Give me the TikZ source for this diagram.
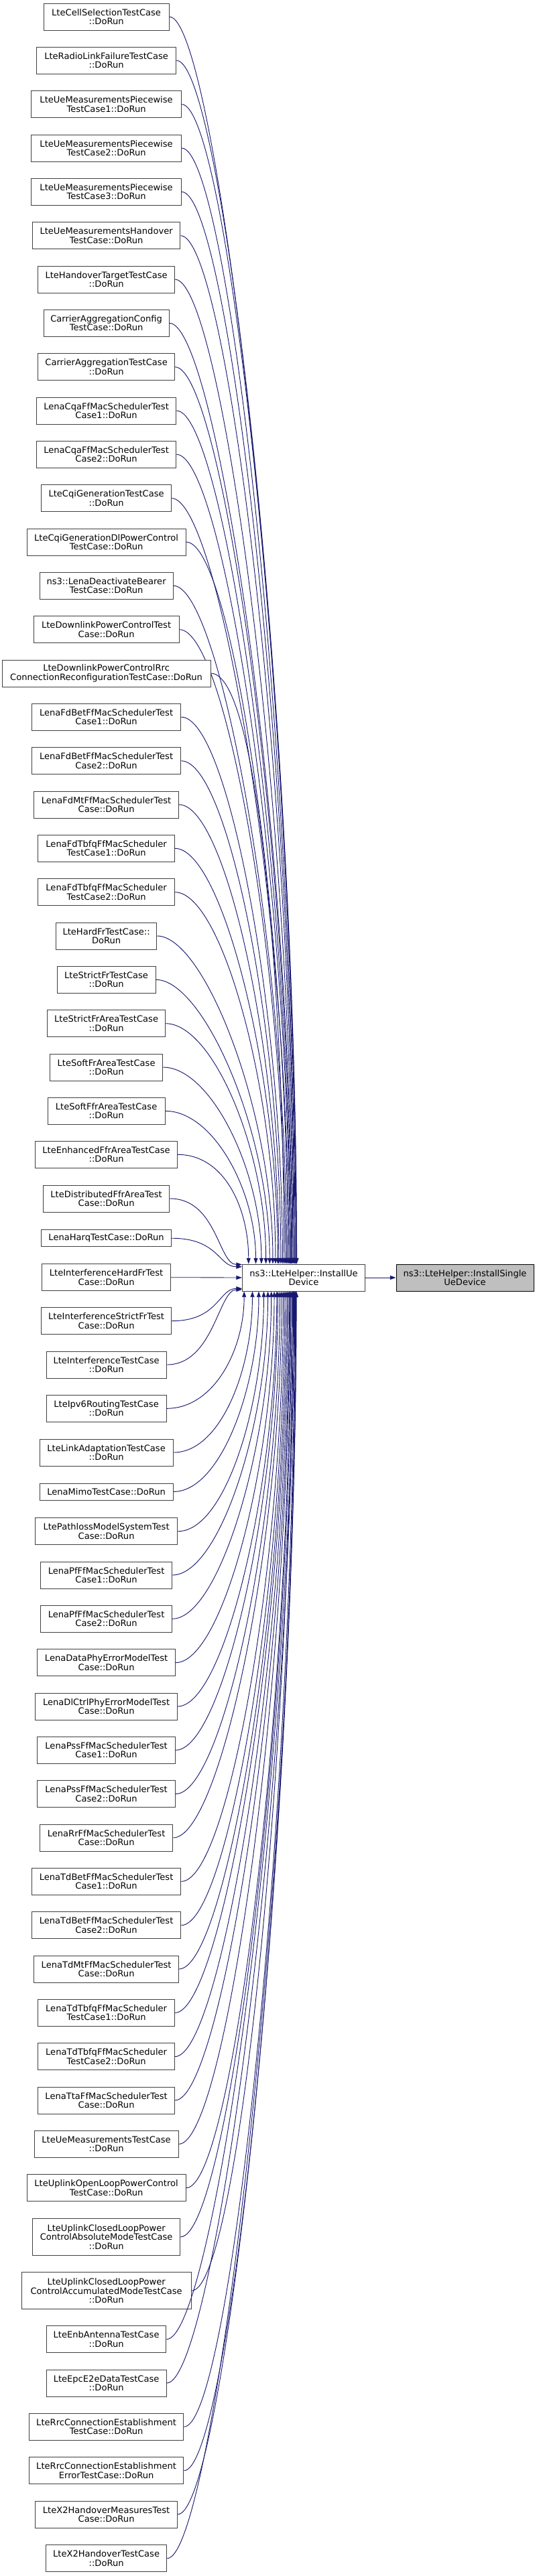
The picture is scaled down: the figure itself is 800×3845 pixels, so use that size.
\documentclass[tikz,border=0pt]{standalone}
\usepackage{fontspec}
\setmainfont{DejaVu Sans}
\usetikzlibrary{arrows.meta}

\definecolor{grey25}{HTML}{404040}
\definecolor{grey75}{HTML}{BFBFBF}
\definecolor{midnight}{HTML}{191970}

\tikzset{
  fnbox/.style={draw=grey25, fill=white, line width=0.75pt, inner sep=0pt, align=center,
    font=\fontsize{9.8}{10}\selectfont},
  rootbox/.style={fnbox, draw=black, fill=grey75},
  call/.style={draw=midnight, line width=0.7pt, -{Triangle[length=6.5pt,width=4.5pt]}}
}

\begin{document}
\begin{tikzpicture}[x=0.75pt, y=-0.75pt]
    \useasboundingbox (0,0) rectangle (800,3845);

    \node[fnbox, minimum width=137.25pt, minimum height=30pt] (mid) at (453,1907) {ns3::LteHelper::InstallUe\\Device};
    \node[rootbox, minimum width=153.75pt, minimum height=30pt] (single) at (693.5,1907) {ns3::LteHelper::InstallSingle\\UeDevice};
    \draw[call] (mid.east) -- (single.west);

    % callers: index / top / height / left edge / label
    \foreach \i/\ya/\hb/\lx/\txt in {
      1/5/40/65/{LteCellSelectionTestCase\\::DoRun},
      2/70.3/40/54.3/{LteRadioLinkFailureTestCase\\::DoRun},
      3/135.7/40/46.7/{LteUeMeasurementsPiecewise\\TestCase1::DoRun},
      4/201/40/46.7/{LteUeMeasurementsPiecewise\\TestCase2::DoRun},
      5/266.3/40/46.7/{LteUeMeasurementsPiecewise\\TestCase3::DoRun},
      6/331.7/40/48.3/{LteUeMeasurementsHandover\\TestCase::DoRun},
      7/397/40/56.7/{LteHandoverTargetTestCase\\::DoRun},
      8/462.3/40/65/{CarrierAggregationConfig\\TestCase::DoRun},
      9/527.7/40/56.7/{CarrierAggregationTestCase\\::DoRun},
      10/593/40/54.3/{LenaCqaFfMacSchedulerTest\\Case1::DoRun},
      11/658.3/40/54.3/{LenaCqaFfMacSchedulerTest\\Case2::DoRun},
      12/723.7/40/61.7/{LteCqiGenerationTestCase\\::DoRun},
      13/789/40/40/{LteCqiGenerationDlPowerControl\\TestCase::DoRun},
      14/854.3/40/59/{ns3::LenaDeactivateBearer\\TestCase::DoRun},
      15/919.7/40/50/{LteDownlinkPowerControlTest\\Case::DoRun},
      16/985/40/3/{LteDownlinkPowerControlRrc\\ConnectionReconfigurationTestCase::DoRun},
      17/1050.3/40/47.3/{LenaFdBetFfMacSchedulerTest\\Case1::DoRun},
      18/1115.7/40/47.3/{LenaFdBetFfMacSchedulerTest\\Case2::DoRun},
      19/1181/40/50.7/{LenaFdMtFfMacSchedulerTest\\Case::DoRun},
      20/1246.3/40/56.7/{LenaFdTbfqFfMacScheduler\\TestCase1::DoRun},
      21/1311.7/40/56.7/{LenaFdTbfqFfMacScheduler\\TestCase2::DoRun},
      22/1377/40/83.3/{LteHardFrTestCase::\\DoRun},
      23/1442.3/40/85/{LteStrictFrTestCase\\::DoRun},
      24/1507.7/40/70.7/{LteStrictFrAreaTestCase\\::DoRun},
      25/1573/40/74.3/{LteSoftFrAreaTestCase\\::DoRun},
      26/1638.3/40/71/{LteSoftFfrAreaTestCase\\::DoRun},
      27/1703.3/40/52.7/{LteEnhancedFfrAreaTestCase\\::DoRun},
      28/1769/40/64.3/{LteDistributedFfrAreaTest\\Case::DoRun},
      29/1835.7/25/61.7/{LenaHarqTestCase::DoRun},
      30/1886.7/40/62.7/{LteInterferenceHardFrTest\\Case::DoRun},
      31/1951.7/40/61.7/{LteInterferenceStrictFrTest\\Case::DoRun},
      32/2017/40/69/{LteInterferenceTestCase\\::DoRun},
      33/2082.3/40/69/{LteIpv6RoutingTestCase\\::DoRun},
      34/2148/40/59/{LteLinkAdaptationTestCase\\::DoRun},
      35/2214/25/59/{LenaMimoTestCase::DoRun},
      36/2265.7/40/52.3/{LtePathlossModelSystemTest\\Case::DoRun},
      37/2331/40/60.7/{LenaPfFfMacSchedulerTest\\Case1::DoRun},
      38/2396.3/40/60.7/{LenaPfFfMacSchedulerTest\\Case2::DoRun},
      39/2461.7/40/55.7/{LenaDataPhyErrorModelTest\\Case::DoRun},
      40/2527/40/52.7/{LenaDlCtrlPhyErrorModelTest\\Case::DoRun},
      41/2592.3/40/55.7/{LenaPssFfMacSchedulerTest\\Case1::DoRun},
      42/2657.7/40/55.7/{LenaPssFfMacSchedulerTest\\Case2::DoRun},
      43/2723/40/59.3/{LenaRrFfMacSchedulerTest\\Case::DoRun},
      44/2788.3/40/47.3/{LenaTdBetFfMacSchedulerTest\\Case1::DoRun},
      45/2853.7/40/47.3/{LenaTdBetFfMacSchedulerTest\\Case2::DoRun},
      46/2919/40/50.7/{LenaTdMtFfMacSchedulerTest\\Case::DoRun},
      47/2984.3/40/56.7/{LenaTdTbfqFfMacScheduler\\TestCase1::DoRun},
      48/3049.7/40/56.7/{LenaTdTbfqFfMacScheduler\\TestCase2::DoRun},
      49/3115/40/56.7/{LenaTtaFfMacSchedulerTest\\Case::DoRun},
      50/3180.3/40/51/{LteUeMeasurementsTestCase\\::DoRun},
      51/3245.7/40/40/{LteUplinkOpenLoopPowerControl\\TestCase::DoRun},
      52/3311.3/55/48.3/{LteUplinkClosedLoopPower\\ControlAbsoluteModeTestCase\\::DoRun},
      53/3391.7/55/32/{LteUplinkClosedLoopPower\\ControlAccumulatedModeTestCase\\::DoRun},
      54/3471.7/40/69.3/{LteEnbAntennaTestCase\\::DoRun},
      55/3537/40/69/{LteEpcE2eDataTestCase\\::DoRun},
      56/3602.3/40/43.3/{LteRrcConnectionEstablishment\\TestCase::DoRun},
      57/3667.7/40/43.3/{LteRrcConnectionEstablishment\\ErrorTestCase::DoRun},
      58/3733/40/52.7/{LteX2HandoverMeasuresTest\\Case::DoRun},
      59/3798.7/40/68.3/{LteX2HandoverTestCase\\::DoRun}}
    {
      \node[fnbox, minimum width={(317.2-2*\lx)*0.75pt}, minimum height={\hb*0.75pt}]
        (c\i) at ({158.6},{\ya+\hb/2}) {\txt};
      \pgfmathtruncatemacro\ang{\i<30 ? 170-(29-\i)*1.89 : (\i>30 ? 190+(\i-31)*1.89 : 180)}
      \pgfmathsetmacro\dy{1907-(\ya+\hb/2)}
      \pgfmathsetmacro\cx{abs(180-\ang)<13 ? -35 : 0}
      \pgfmathsetmacro\cy{abs(180-\ang)<13 ? 0 : -0.45*\dy}
      \draw[call] (c\i.east) .. controls +(70,0) and +(\cx,\cy) .. (mid.\ang);
    }
\end{tikzpicture}
\end{document}
